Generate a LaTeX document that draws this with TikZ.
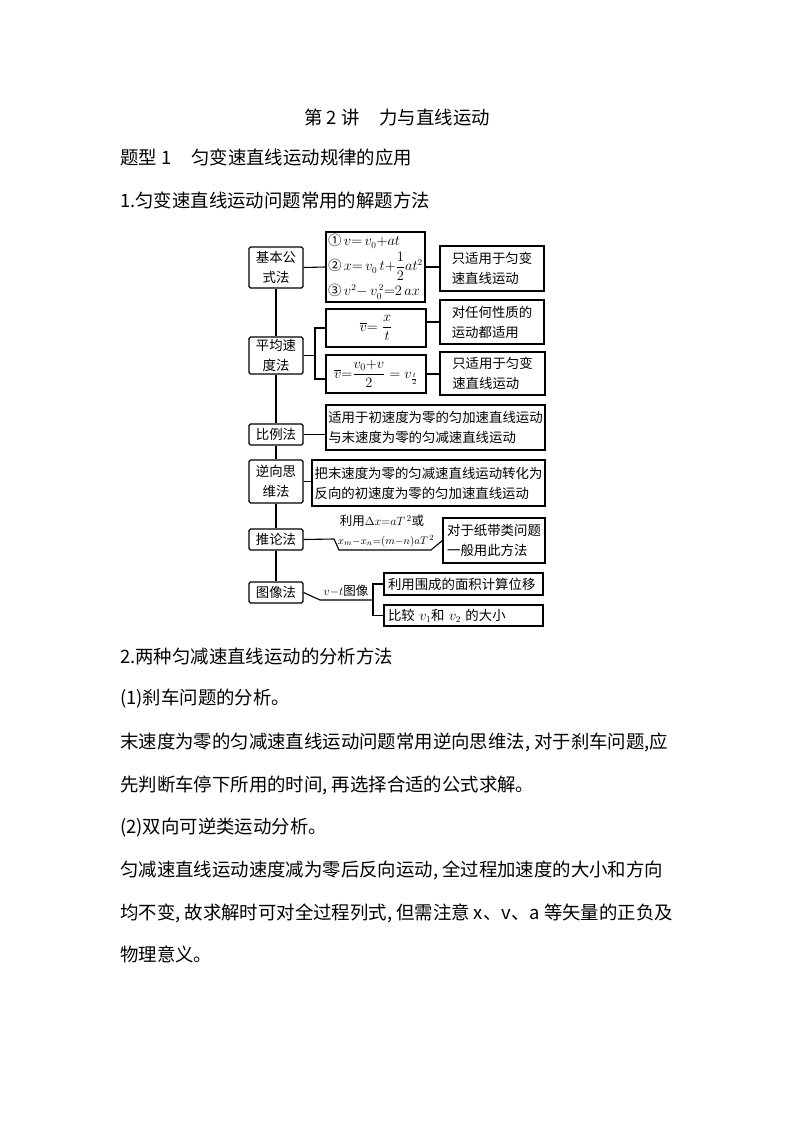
\documentclass[tikz,border=0pt]{standalone}
\usepackage{amsmath}
\usepackage{fontspec}
\newfontfamily\cjk{Noto Sans CJK SC}
\usetikzlibrary{calc}

\begin{document}
\begin{tikzpicture}[x=1pt,y=-1pt,
  every node/.style={font=\cjk\fontsize{18.4}{22}\selectfont},
  para/.style={anchor=base west,inner sep=0pt},
  line/.style={line width=1.1pt},
  method/.style={draw,line width=1.1pt,rounded corners=1.5pt,inner sep=0pt,align=center,
    minimum width=54pt,font=\cjk\fontsize{13.4}{20}\selectfont},
  note/.style={draw,line width=1.1pt,inner sep=0pt,align=left,
    font=\cjk\fontsize{13.4}{20}\selectfont},
  label/.style={inner sep=0pt,font=\cjk\fontsize{12.5}{15}\selectfont}]
\useasboundingbox (0,0) rectangle (794,1123);

% headings
\node[anchor=base] (title) at (397,125) {第 2 讲\hspace{20pt}力与直线运动};
\node[para] (type1) at (120,165) {题型 1\hspace{20pt}匀变速直线运动规律的应用};
\node[para] (sec1) at (120,208) {1.匀变速直线运动问题常用的解题方法};

% methods (left column)
\node[method,minimum height=41pt] (jbgs) at (276,267.5) {基本公\\式法};
\node[method,minimum height=37pt] (pjsd) at (276,355.5) {平均速\\度法};
\node[method,minimum height=21pt] (blf) at (276,434.5) {比例法};
\node[method,minimum height=43pt] (nxsw) at (276,481.5) {逆向思\\维法};
\node[method,minimum height=21pt] (tlf) at (276,539.5) {推论法};
\node[method,minimum height=21pt] (txf) at (276,592.5) {图像法};
\foreach \a/\b in {jbgs/pjsd,pjsd/blf,blf/nxsw,nxsw/tlf,tlf/txf}
  \draw[line] (\a.south) -- (\b.north);

% formulas
\node[note,minimum width=99pt,minimum height=70pt,font=\cjk\fontsize{13.5}{25}\selectfont] (gs) at (375.5,267)
  {①\,$v{=}\,v_0{+}at$\\②\,$x{=}\,v_0\,t{+}\dfrac{1}{2}at^2$\\③\,$v^2{-}\,v_0^{\,2}{=}2\,ax$};
\node[note,minimum width=100pt,minimum height=38pt,font=\fontsize{14}{16}\selectfont] (pj1) at (376,328)
  {$\overline{v}{=}\;\dfrac{x}{t}$};
\node[note,minimum width=100pt,minimum height=38pt,font=\fontsize{14}{16}\selectfont] (pj2) at (376,374)
  {$\overline{v}{=}\dfrac{v_0{+}v}{2}=v_{\frac{t}{2}}$};
\node[note,minimum width=219pt,minimum height=45pt] (bl) at (435.5,427.5)
  {适用于初速度为零的匀加速直线运动\\与末速度为零的匀减速直线运动};
\node[note,minimum width=233pt,minimum height=46pt] (nx) at (428.5,483)
  {把末速度为零的匀减速直线运动转化为\\反向的初速度为零的匀加速直线运动};

% notes (right column)
\node[note,minimum width=104pt,minimum height=45pt] (r1) at (492,268.5) {只适用于匀变\\速直线运动};
\node[note,minimum width=104pt,minimum height=44pt] (r2) at (492,322) {对任何性质的\\运动都适用};
\node[note,minimum width=105pt,minimum height=43pt] (r3) at (492.5,373.5) {只适用于匀变\\速直线运动};
\node[note,minimum width=102pt,minimum height=45pt] (r4) at (494,540.5) {对于纸带类问题\\一般用此方法};
\node[note,minimum width=159pt,minimum height=22pt,text width=151pt] (t1) at (463.5,584) {利用围成的面积计算位移};
\node[note,minimum width=159pt,minimum height=21pt,text width=151pt] (t2) at (463.5,615.5) {比较 $v_1$和 $v_2$ 的大小};

% connectors
\draw[line] (jbgs.east) -- (gs.west);
\draw[line] (gs.east) -- (gs.east -| r1.west);
\coordinate (pjfork) at (315,354);
\draw[line] (pjsd.east) -- (pjsd.east -| pjfork);
\draw[line] (pj1.west) -| (pjfork) |- ([yshift=-5pt]pj2.west);
\draw[line] (pj1.east |- r2.west) -- (r2.west);
\draw[line] (pj2.east) -- (pj2.east -| r3.west);
\draw[line] (blf.east) -- (blf.east -| bl.west);
\draw[line] (nxsw.east) -- (nxsw.east -| nx.west);

% inference
\coordinate (tla) at (334,539);
\coordinate (tlb) at (339,550);
\coordinate (tlc) at (431,550);
\draw[line] (tlf.east) -- (tla) -- (tlb) -- (tlc) -- (r4.west);
\node[label] (tlup) at (382,521) {利用$\Delta x{=}aT^{\,2}$或};
\node[label,font=\fontsize{11}{13}\selectfont] (tldown) at (386,541) {$x_m{-}x_n{=}(m{-}n)aT^{\,2}$};

% graph method
\coordinate (txa) at (320,600);
\coordinate (txfork) at (373,600);
\draw[line] (txf.east) -- (txa) -- (txfork);
\draw[line] (t1.west) -| (txfork) |- (t2.west);
\node[label] (vt) at (346,591) {$v{-}t$图像};

% text below
\node[para] (sec2) at (120,663) {2.两种匀减速直线运动的分析方法};
\node[para] (p1) at (120,704) {(1)刹车问题的分析。};
\node[para] (p1a) at (120,748) {末速度为零的匀减速直线运动问题常用逆向思维法, 对于刹车问题,应};
\node[para] (p1b) at (120,791) {先判断车停下所用的时间, 再选择合适的公式求解。};
\node[para] (p2) at (120,833) {(2)双向可逆类运动分析。};
\node[para] (p2a) at (120,876) {匀减速直线运动速度减为零后反向运动, 全过程加速度的大小和方向};
\node[para] (p2b) at (120,919) {均不变, 故求解时可对全过程列式, 但需注意 x、v、a 等矢量的正负及};
\node[para] (p2c) at (120,961) {物理意义。};
\end{tikzpicture}
\end{document}
